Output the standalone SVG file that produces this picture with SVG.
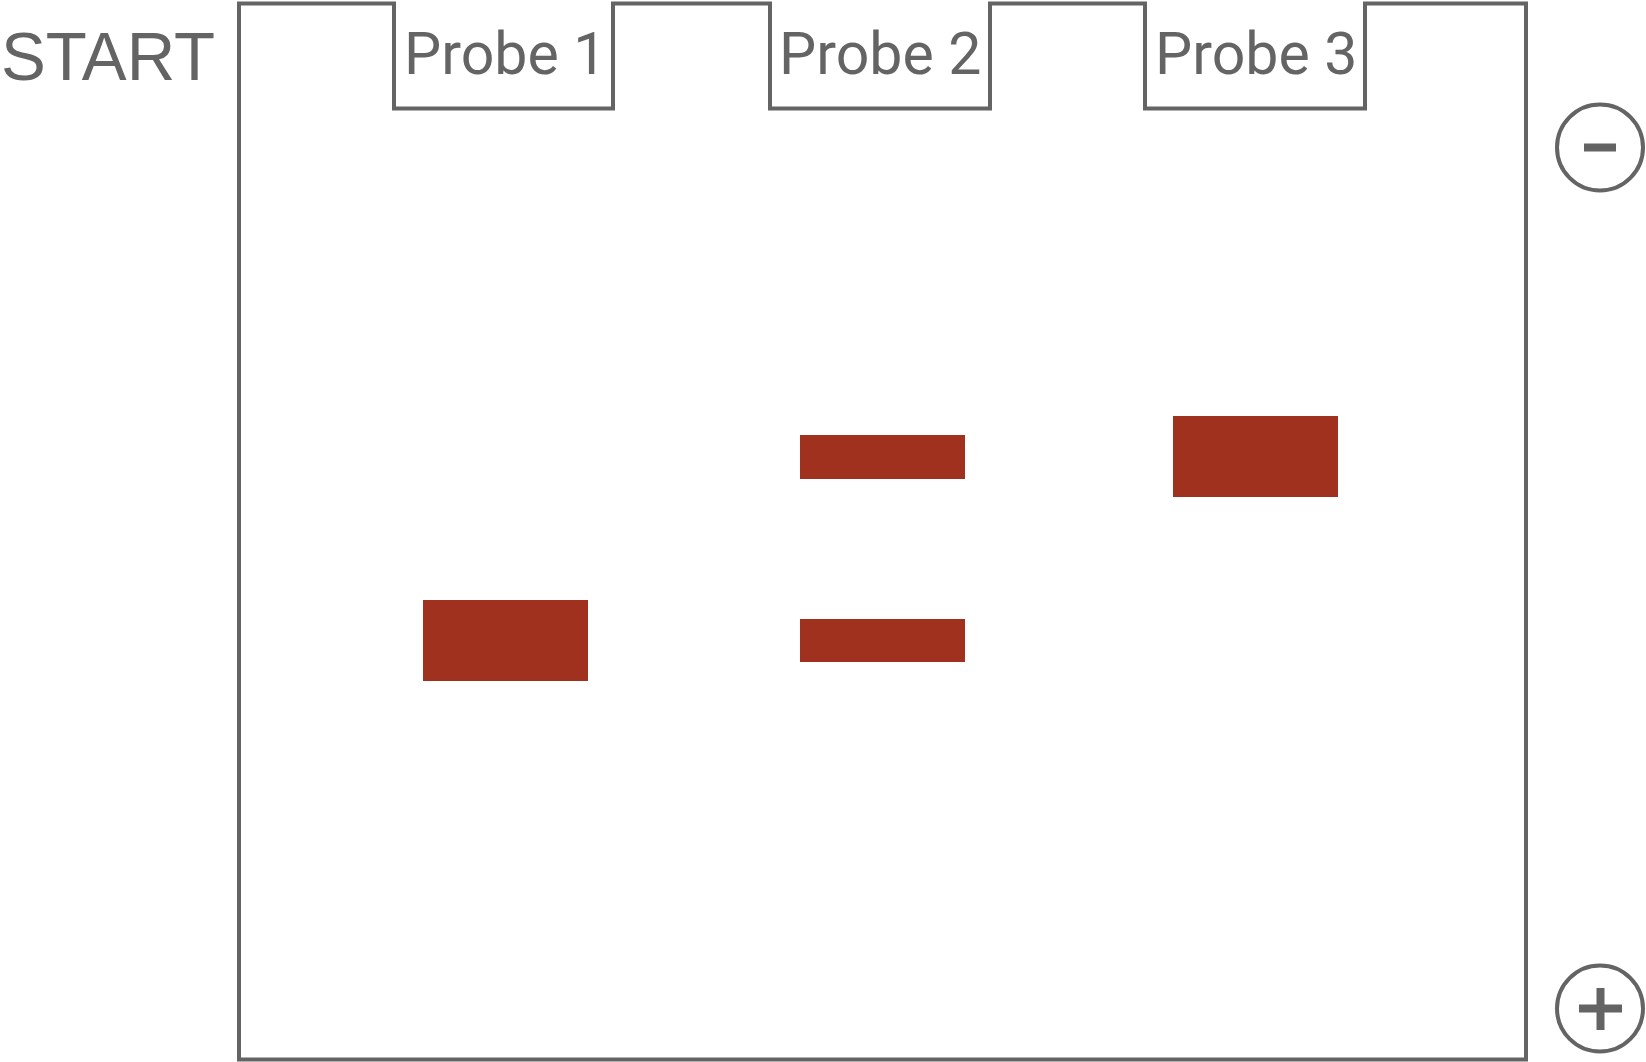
<svg xmlns="http://www.w3.org/2000/svg" width="1646" height="1062" viewBox="0 0 1646 1062">
<style>
.line{fill:none;stroke:#646464;stroke-width:4;stroke-linejoin:miter}
.band{fill:#A1311F}
.lbl{font-family:Roboto,"Liberation Sans",sans-serif;font-size:59px;fill:#646464}
.sign{fill:#646464}
</style>
<rect width="1646" height="1062" fill="#ffffff"/>
<g id="gel">
<path class="line" d="M239,3.5 H394 V108.5 H613 V3.5 H770 V108.5 H990 V3.5 H1145 V108.5 H1365 V3.5 H1526 V1059.5 H239 Z"/>
</g>
<g id="start-label">
<text x="1" y="80" font-family="'Liberation Sans',Arial,sans-serif" font-size="69" fill="#646464" textLength="214" lengthAdjust="spacingAndGlyphs">START</text>
</g>
<g id="probe1">
<text class="lbl" x="404" y="74">Probe 1</text>
<rect class="band" x="423" y="600" width="165" height="81"/>
</g>
<g id="probe2">
<text class="lbl" x="779" y="74">Probe 2</text>
<rect class="band" x="800" y="435" width="165" height="44"/>
<rect class="band" x="800" y="619" width="165" height="43"/>
</g>
<g id="probe3">
<text class="lbl" x="1155" y="74">Probe 3</text>
<rect class="band" x="1173" y="416" width="165" height="81"/>
</g>
<g id="minus">
<circle class="line" cx="1600" cy="147.5" r="43"/>
<rect class="sign" x="1584" y="143.5" width="32" height="8"/>
</g>
<g id="plus">
<circle class="line" cx="1600" cy="1008.5" r="43"/>
<rect class="sign" x="1579" y="1004.5" width="43" height="8"/>
<rect class="sign" x="1596.5" y="988" width="8" height="42"/>
</g>
<g id="connectors"></g>
</svg>
